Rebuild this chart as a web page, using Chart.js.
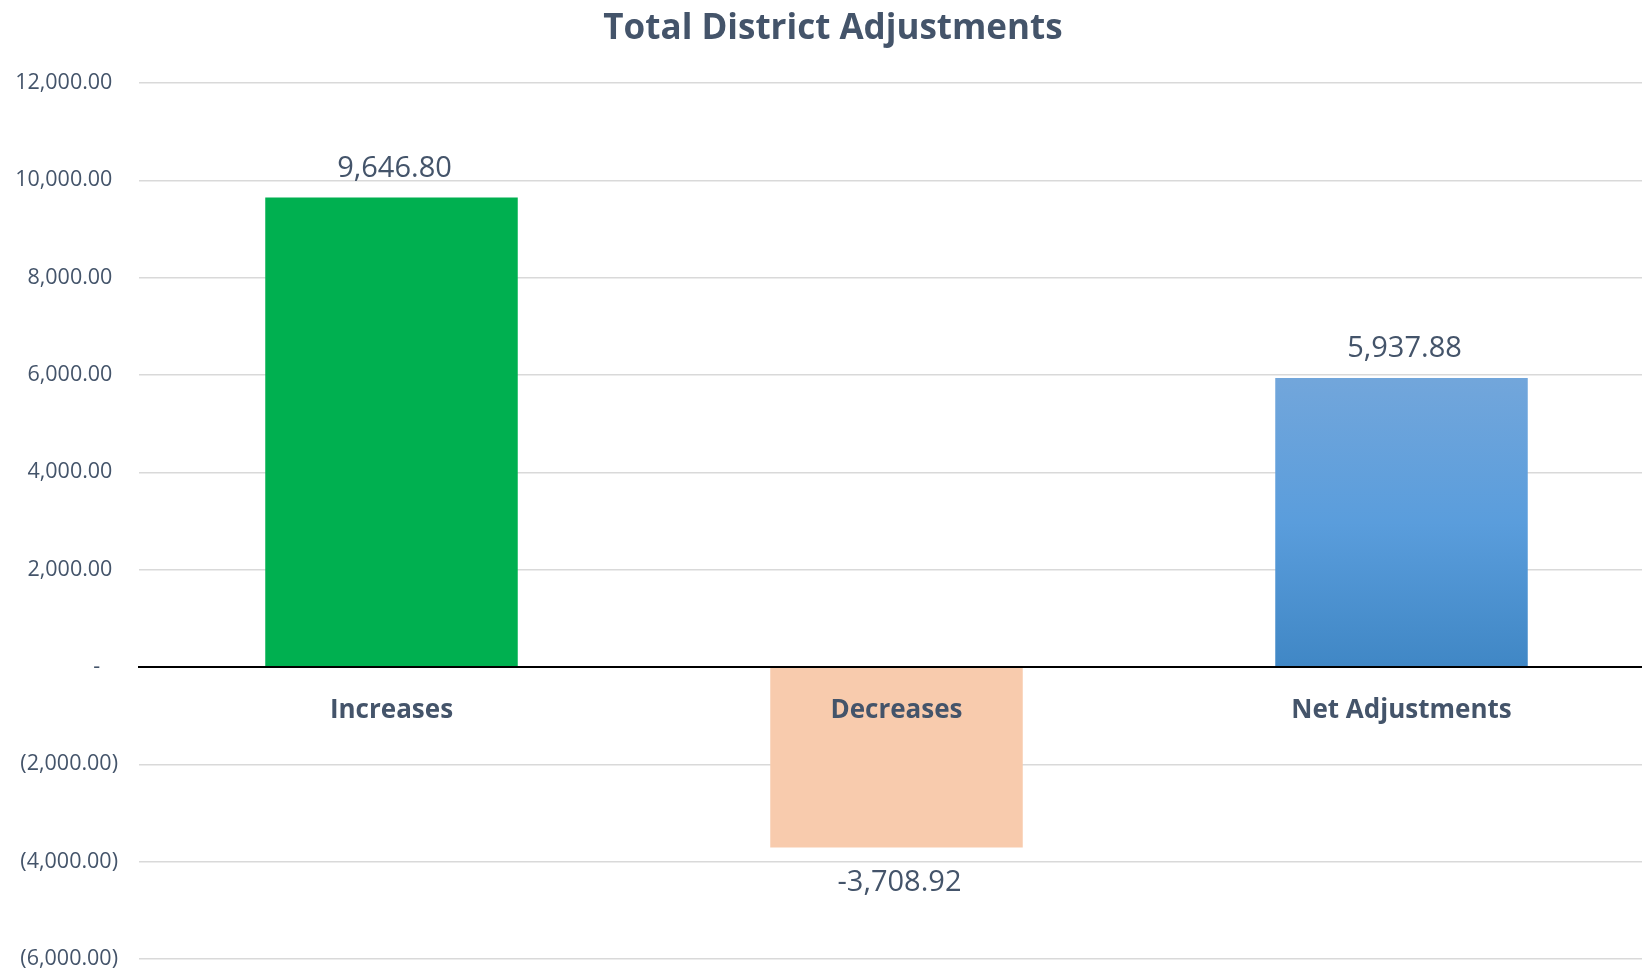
<!DOCTYPE html>
<html>
<head>
<meta charset="utf-8">
<script src="https://cdn.jsdelivr.net/npm/chart.js@4/dist/chart.umd.min.js"></script>
<style>
  html, body { margin: 0; padding: 0; overflow: hidden; background: #fff; }
  #wrap { width: 1676px; height: 973px; position: relative; }
</style>
</head>
<body>
<div id="wrap"><canvas id="chart"></canvas></div>
<script>
// data
const categories = ['Increases', 'Decreases', 'Net Adjustments'];
const values = [9646.80, -3708.92, 5937.88];
const yTicks = { min: -6000, max: 12000, step: 2000 };

const TEXT = '#44546A';
const FONT = 'Open Sans';

function money(v) {
    return Math.abs(v).toLocaleString('en-US', { minimumFractionDigits: 2, maximumFractionDigits: 2 });
}

// excel accounting style: "-" for zero, brackets for negatives
function acct(v) {
    if (v === 0) return '-\u2007 ';
    return v < 0 ? '(' + money(v) + ')' : money(v) + ' ';
}

function netFill(ctx) {
    const chart = ctx.chart;
    if (!chart.chartArea) return '#5B9BD5';
    const y = chart.scales.y;
    const top = y.getPixelForValue(ctx.raw);
    const base = y.getPixelForValue(0);
    const g = chart.ctx.createLinearGradient(0, top, 0, base);
    g.addColorStop(0, '#72A6DB');
    g.addColorStop(0.5, '#5A9DDC');
    g.addColorStop(1, '#4087C5');
    return g;
}

const fills = ['#00B050', '#F8CBAD', netFill];

const valueLabels = {
    id: 'valueLabels',
    afterDatasetsDraw(chart) {
        const c = chart.ctx;
        const meta = chart.getDatasetMeta(0);
        c.save();
        c.font = '29px "' + FONT + '"';
        c.fillStyle = TEXT;
        c.textAlign = 'center';
        c.textBaseline = 'middle';
        meta.data.forEach((bar, i) => {
            const v = values[i];
            const txt = (v < 0 ? '-' : '') + money(v);
            const y = v < 0 ? bar.y + 35 : bar.y - 29;
            c.fillText(txt, bar.x + 3, y);
        });
        c.restore();
    }
};

new Chart(document.getElementById('chart'), {
    type: 'bar',
    data: {
        labels: categories,
        datasets: [{
            data: values,
            backgroundColor: (ctx) => {
                const f = fills[ctx.dataIndex];
                return typeof f === 'function' ? f(ctx) : f;
            },
            borderWidth: 0,
            barPercentage: 1,
            categoryPercentage: 0.5
        }]
    },
    options: {
        responsive: true,
        maintainAspectRatio: false,
        animation: false,
        layout: { padding: { left: 12, right: 22, bottom: 14 } },
        plugins: {
            legend: { display: false },
            tooltip: { enabled: false },
            title: {
                display: true,
                text: 'Total District Adjustments',
                color: TEXT,
                font: { family: FONT, size: 35, weight: 'bold' },
                padding: { top: 8, bottom: 33 }
            }
        },
        scales: {
            x: {
                position: { y: 0 },
                offset: true,
                grid: { display: false },
                border: { display: true, color: '#000', width: 2, z: 1 },
                ticks: {
                    z: 1,
                    color: TEXT,
                    padding: 20,
                    font: { family: FONT, size: 26, weight: 'bold' }
                }
            },
            y: {
                min: yTicks.min,
                max: yTicks.max,
                afterFit(scale) {
                    scale.width = 127;
                    scale.paddingTop = 0;
                    scale.paddingBottom = 0;
                },
                grid: { color: '#D9D9D9', lineWidth: 1.5, drawTicks: false },
                border: { display: false },
                ticks: {
                    stepSize: yTicks.step,
                    padding: 21,
                    color: TEXT,
                    font: { family: FONT, size: 21.5 },
                    callback: (v) => acct(v)
                }
            }
        }
    },
    plugins: [valueLabels]
});
</script>
</body>
</html>
